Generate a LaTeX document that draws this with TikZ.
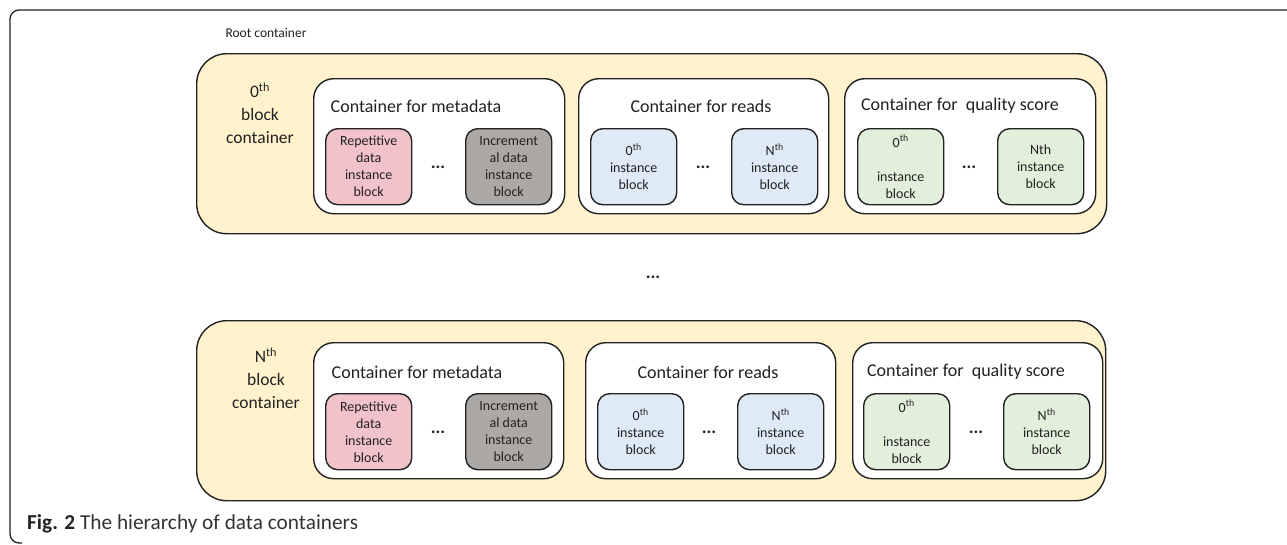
\documentclass[tikz,border=0pt]{standalone}
\usepackage{fontspec}
\setmainfont{Carlito}
\definecolor{ink}{HTML}{222222}
\definecolor{blockfill}{HTML}{FFF2CC}
\definecolor{pinkfill}{HTML}{F2C2CA}
\definecolor{grayfill}{HTML}{ABA8A6}
\definecolor{bluefill}{HTML}{DEEAF6}
\definecolor{greenfill}{HTML}{E2EFDA}
\tikzset{
  blockbox/.style={draw=ink, line width=1.4pt, fill=blockfill, rounded corners=30pt, anchor=north west, inner sep=0pt},
  contbox/.style={draw=ink, line width=1.4pt, fill=white, rounded corners=20pt, anchor=north west, inner sep=0pt},
  ibox/.style={draw=ink, line width=1.4pt, rounded corners=12pt, anchor=north west, inner sep=0pt,
    minimum width=86pt, minimum height=76pt},
  itext/.style={align=center, font=\fontsize{14}{17}\selectfont, text=ink},
  title/.style={font=\fontsize{18}{21}\selectfont, text=ink},
  blabel/.style={align=center, font=\fontsize{17.5}{23}\selectfont, text=ink},
  dots/.style={font=\fontsize{18}{18}\selectfont\bfseries, text=ink},
}
\begin{document}
\begin{tikzpicture}[x=1pt,y=-1pt]
\useasboundingbox (0,0) rectangle (1287,544);
% figure frame
\draw[ink, line width=1.3pt, rounded corners=9pt] (1300,10) -- (10,10) -- (10,543) -- (22,543);
\node[font=\fontsize{13.5}{16}\selectfont, text=ink, anchor=west] (root) at (222,33) {Root container};

% ---------- 0th block ----------
\node[blockbox, minimum width=910pt, minimum height=180pt] (b0) at (196,53) {};
\node[blabel] (b0l) at (260,113) {0\textsuperscript{th}\\block\\container};
\node[contbox, minimum width=251pt, minimum height=135pt] (m0) at (313,78) {};
\node[title] (m0t) at (416,106) {Container for metadata};
\node[ibox, fill=pinkfill] (m0a) at (325,128) {};
\node[itext] at (m0a.center) {Repetitive\\data\\instance\\block};
\node[dots] (m0d) at (438,167) {...};
\node[ibox, fill=grayfill] (m0b) at (465,128) {};
\node[itext] at (m0b.center) {Increment\\al data\\instance\\block};

\node[contbox, minimum width=250pt, minimum height=135pt] (r0) at (578,78) {};
\node[title] (r0t) at (701,106) {Container for reads};
\node[ibox, fill=bluefill] (r0a) at (590,128) {};
\node[itext] at (r0a.center) {0\textsuperscript{th}\\instance\\block};
\node[dots] (r0d) at (703,167) {...};
\node[ibox, fill=bluefill] (r0b) at (731,128) {};
\node[itext] at (r0b.center) {N\textsuperscript{th}\\instance\\block};

\node[contbox, minimum width=251pt, minimum height=135pt] (q0) at (844,78) {};
\node[title] (q0t) at (960,106) {Container for\ \ quality score};
\node[ibox, fill=greenfill] (q0a) at (857,128) {};
\node[itext] at (q0a.center) {0\textsuperscript{th}\\\mbox{}\\instance\\block};
\node[dots] (q0d) at (969,167) {...};
\node[ibox, fill=greenfill] (q0b) at (997,128) {};
\node[itext] at (q0b.center) {Nth\\instance\\block};

% middle dots
\node[dots] (mid) at (653,277) {...};

% ---------- Nth block ----------
\node[blockbox, minimum width=909pt, minimum height=180pt] (bn) at (196,320) {};
\node[blabel] (bnl) at (266,378) {N\textsuperscript{th}\\block\\container};
\node[contbox, minimum width=250pt, minimum height=136pt] (mn) at (313,342) {};
\node[title] (mnt) at (417,372) {Container for metadata};
\node[ibox, fill=pinkfill] (mna) at (325,393) {};
\node[itext] at (mna.center) {Repetitive\\data\\instance\\block};
\node[dots] (mnd) at (438,432) {...};
\node[ibox, fill=grayfill] (mnb) at (465,393) {};
\node[itext] at (mnb.center) {Increment\\al data\\instance\\block};

\node[contbox, minimum width=250pt, minimum height=136pt] (rn) at (585,342) {};
\node[title] (rnt) at (708,372) {Container for reads};
\node[ibox, fill=bluefill] (rna) at (597,393) {};
\node[itext] at (rna.center) {0\textsuperscript{th}\\instance\\block};
\node[dots] (rnd) at (709,432) {...};
\node[ibox, fill=bluefill] (rnb) at (737,393) {};
\node[itext] at (rnb.center) {N\textsuperscript{th}\\instance\\block};

\node[contbox, minimum width=250pt, minimum height=136pt] (qn) at (852,342) {};
\node[title] (qnt) at (966,372) {Container for\ \ quality score};
\node[ibox, fill=greenfill] (qna) at (863,393) {};
\node[itext] at (qna.center) {0\textsuperscript{th}\\\mbox{}\\instance\\block};
\node[dots] (qnd) at (976,432) {...};
\node[ibox, fill=greenfill] (qnb) at (1003,393) {};
\node[itext] at (qnb.center) {N\textsuperscript{th}\\instance\\block};

% caption
\node[anchor=base west, inner sep=0pt, font=\fontsize{21.3}{24}\selectfont, text=ink] (cap) at (27,529) {\textbf{Fig. 2} \textcolor{black!80}{The hierarchy of data containers}};
\end{tikzpicture}
\end{document}
